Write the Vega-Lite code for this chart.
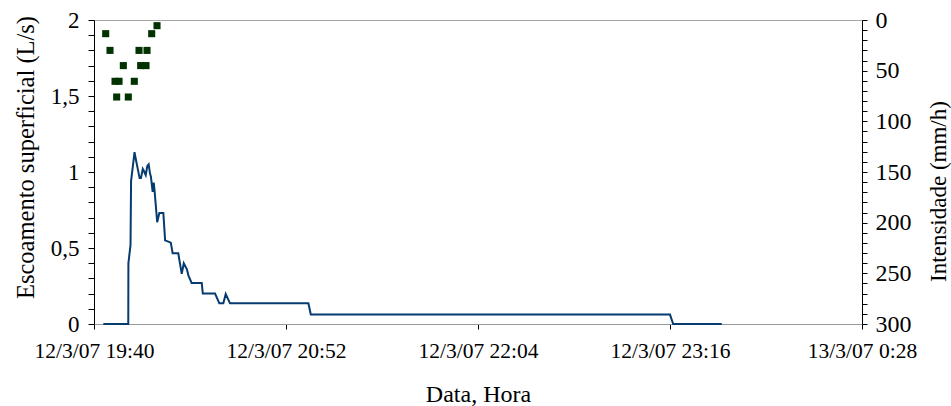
{
  "$schema": "https://vega.github.io/schema/vega-lite/v6.json",
  "width": 768,
  "height": 304,
  "autosize": "none",
  "padding": {"left": 94, "top": 20, "right": 89, "bottom": 82},
  "background": "white",
  "config": {
    "view": {"stroke": "#a6a6a6", "strokeWidth": 1},
    "font": "Liberation Serif",
    "axis": {
      "labelFont": "Liberation Serif",
      "titleFont": "Liberation Serif",
      "labelColor": "black",
      "titleColor": "black",
      "titleFontWeight": "normal",
      "grid": false
    }
  },
  "datasets": {
    "flow": [
      {"t": "2007-03-12T19:43:30", "q": 0},
      {"t": "2007-03-12T19:52:51", "q": 0},
      {"t": "2007-03-12T19:52:54", "q": 0.40},
      {"t": "2007-03-12T19:53:42", "q": 0.52},
      {"t": "2007-03-12T19:53:54", "q": 0.94},
      {"t": "2007-03-12T19:55:12", "q": 1.13},
      {"t": "2007-03-12T19:55:30", "q": 1.10},
      {"t": "2007-03-12T19:57:06", "q": 0.96},
      {"t": "2007-03-12T19:57:36", "q": 0.96},
      {"t": "2007-03-12T19:58:18", "q": 1.02},
      {"t": "2007-03-12T19:58:54", "q": 1.00},
      {"t": "2007-03-12T19:59:24", "q": 0.98},
      {"t": "2007-03-12T20:00:00", "q": 1.04},
      {"t": "2007-03-12T20:00:30", "q": 1.05},
      {"t": "2007-03-12T20:01:00", "q": 0.99},
      {"t": "2007-03-12T20:01:20", "q": 0.97},
      {"t": "2007-03-12T20:02:00", "q": 0.87},
      {"t": "2007-03-12T20:02:24", "q": 0.93},
      {"t": "2007-03-12T20:02:42", "q": 0.88},
      {"t": "2007-03-12T20:03:42", "q": 0.67},
      {"t": "2007-03-12T20:04:30", "q": 0.73},
      {"t": "2007-03-12T20:06:00", "q": 0.73},
      {"t": "2007-03-12T20:06:40", "q": 0.55},
      {"t": "2007-03-12T20:08:48", "q": 0.535},
      {"t": "2007-03-12T20:09:30", "q": 0.465},
      {"t": "2007-03-12T20:11:36", "q": 0.465},
      {"t": "2007-03-12T20:12:54", "q": 0.33},
      {"t": "2007-03-12T20:13:40", "q": 0.40},
      {"t": "2007-03-12T20:14:50", "q": 0.36},
      {"t": "2007-03-12T20:15:24", "q": 0.32},
      {"t": "2007-03-12T20:16:36", "q": 0.27},
      {"t": "2007-03-12T20:20:24", "q": 0.27},
      {"t": "2007-03-12T20:20:48", "q": 0.20},
      {"t": "2007-03-12T20:25:24", "q": 0.20},
      {"t": "2007-03-12T20:27:00", "q": 0.136},
      {"t": "2007-03-12T20:28:30", "q": 0.136},
      {"t": "2007-03-12T20:29:24", "q": 0.197},
      {"t": "2007-03-12T20:31:00", "q": 0.136},
      {"t": "2007-03-12T21:00:24", "q": 0.136},
      {"t": "2007-03-12T21:01:18", "q": 0.062},
      {"t": "2007-03-12T23:16:00", "q": 0.062},
      {"t": "2007-03-12T23:17:12", "q": 0},
      {"t": "2007-03-12T23:35:24", "q": 0}
    ],
    "rain": [
      {"t": "2007-03-12T19:44:23", "i": 13.5},
      {"t": "2007-03-12T19:46:00", "i": 30},
      {"t": "2007-03-12T19:47:53", "i": 60.5},
      {"t": "2007-03-12T19:48:30", "i": 76},
      {"t": "2007-03-12T19:49:23", "i": 60.5},
      {"t": "2007-03-12T19:51:00", "i": 45},
      {"t": "2007-03-12T19:52:52", "i": 76},
      {"t": "2007-03-12T19:55:07", "i": 60.5},
      {"t": "2007-03-12T19:56:53", "i": 30},
      {"t": "2007-03-12T19:57:30", "i": 45},
      {"t": "2007-03-12T19:59:30", "i": 45},
      {"t": "2007-03-12T19:59:53", "i": 30},
      {"t": "2007-03-12T20:01:38", "i": 13.5},
      {"t": "2007-03-12T20:03:38", "i": 5.6}
    ]
  },
  "encoding": {
    "x": {
      "field": "t",
      "type": "temporal",
      "scale": {
        "domain": [
          {"year": 2007, "month": 3, "date": 12, "hours": 19, "minutes": 40},
          {"year": 2007, "month": 3, "date": 13, "hours": 0, "minutes": 28}
        ]
      },
      "axis": {
        "values": [
          {"year": 2007, "month": 3, "date": 12, "hours": 19, "minutes": 40},
          {"year": 2007, "month": 3, "date": 12, "hours": 20, "minutes": 52},
          {"year": 2007, "month": 3, "date": 12, "hours": 22, "minutes": 4},
          {"year": 2007, "month": 3, "date": 12, "hours": 23, "minutes": 16},
          {"year": 2007, "month": 3, "date": 13, "hours": 0, "minutes": 28}
        ],
        "format": "%-d/%-m/%y %-H:%M",
        "title": "Data, Hora",
        "titleFontSize": 24,
        "labelFontSize": 21.5,
        "tickSize": 5,
        "tickColor": "black",
        "domainColor": "#999999",
        "labelPadding": 11,
        "titlePadding": 21,
        "labelOverlap": false,
        "labelFlush": false
      }
    }
  },
  "layer": [
    {
      "data": {"name": "flow"},
      "mark": {"type": "line", "color": "#063b70", "strokeWidth": 2, "interpolate": "linear"},
      "encoding": {
        "y": {
          "field": "q",
          "type": "quantitative",
          "scale": {"domain": [0, 2], "nice": false, "zero": true},
          "axis": {
            "orient": "left",
            "values": [0, 0.1, 0.2, 0.3, 0.4, 0.5, 0.6, 0.7, 0.8, 0.9, 1, 1.1, 1.2, 1.3, 1.4, 1.5, 1.6, 1.7, 1.8, 1.9, 2],
            "labelExpr": "(round(datum.value * 10) % 5 == 0) ? replace(toString(datum.value), '.', ',') : ''",
            "title": "Escoamento superficial (L/s)",
            "titleFontSize": 24.5,
            "labelFontSize": 23,
            "tickSize": 6,
            "labelPadding": 9,
            "titlePadding": 12,
            "titleY": 137,
            "domainColor": "black",
            "tickColor": "black"
          }
        }
      }
    },
    {
      "data": {"name": "rain"},
      "mark": {"type": "point", "shape": "square", "filled": true, "color": "#003300", "opacity": 1, "size": 50},
      "encoding": {
        "y": {
          "field": "i",
          "type": "quantitative",
          "scale": {"domain": [0, 300], "reverse": true, "nice": false},
          "axis": {
            "orient": "right",
            "values": [0, 10, 20, 30, 40, 50, 60, 70, 80, 90, 100, 110, 120, 130, 140, 150, 160, 170, 180, 190, 200, 210, 220, 230, 240, 250, 260, 270, 280, 290, 300],
            "labelExpr": "datum.value % 50 == 0 ? toString(datum.value) : ''",
            "title": "Intensidade (mm/h)",
            "titleAngle": 270,
            "titleFontSize": 23,
            "labelFontSize": 24,
            "tickSize": 5,
            "labelPadding": 8,
            "titlePadding": 39,
            "titleY": 171,
            "domainColor": "black",
            "tickColor": "black"
          }
        }
      }
    }
  ],
  "resolve": {"scale": {"y": "independent"}}
}
